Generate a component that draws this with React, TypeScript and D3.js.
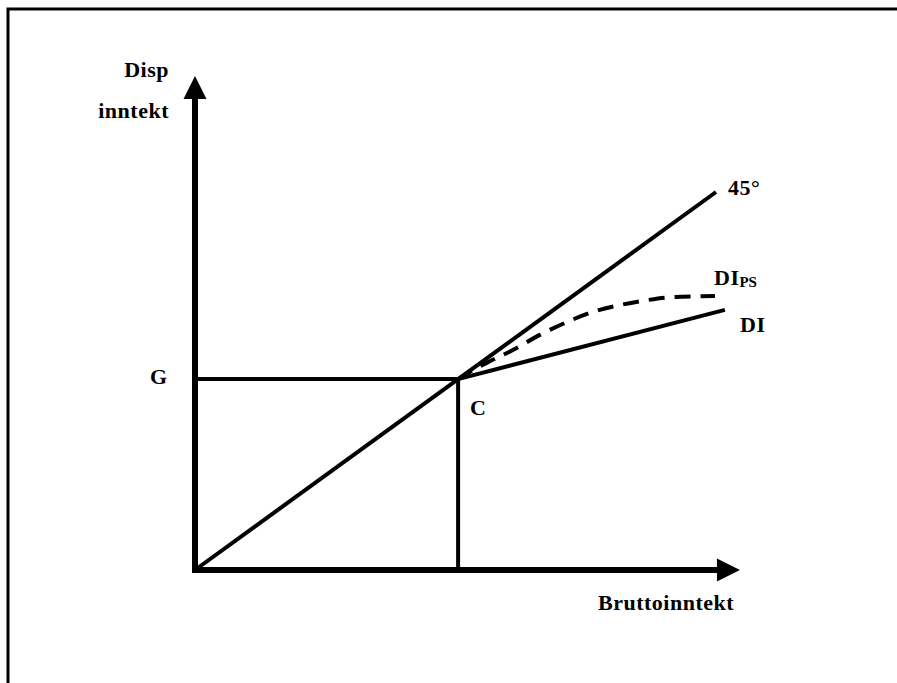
import React from 'react';
import * as d3 from 'd3';

// data coordinates (arbitrary income units)
const axisEnd = { x: 10.46, y: 13.07 };
const cPoint = { x: 5.05, y: 5.05 };
const line45 = [
  { x: 0, y: 0 },
  { x: 10, y: 10 },
];
const diLine = [
  { x: 5.05, y: 5.05 },
  { x: 10.17, y: 6.88 },
];
const diPsX = [5.05, 5.34, 5.6, 6.1, 6.62, 7.14, 7.64, 8.16, 8.68, 9.17, 9.98];
const diPsY = [5.05, 5.29, 5.48, 5.82, 6.22, 6.56, 6.83, 7.01, 7.14, 7.22, 7.25];

const W = 897;
const H = 683;

const font = '"Liberation Serif", "Times New Roman", serif';

export default function App() {
  const x = d3.scaleLinear().domain([0, 10]).range([195, 716]);
  const y = d3.scaleLinear().domain([0, 10]).range([570, 192]);

  const line = d3
    .line<{ x: number; y: number }>()
    .x((d) => x(d.x))
    .y((d) => y(d.y));

  const curve = d3
    .line<{ x: number; y: number }>()
    .x((d) => x(d.x))
    .y((d) => y(d.y))
    .curve(d3.curveMonotoneX);

  const psPoints = diPsX.map((v, i) => ({ x: v, y: diPsY[i] }));

  // axis arrows
  const ox = x(0);
  const oy = y(0);
  const xTip = x(axisEnd.x);
  const yTip = y(axisEnd.y);
  const head = 23;
  const half = 11.5;

  const textStyle = { fontFamily: font, fontWeight: 700, fontSize: 22, letterSpacing: 0.5 };

  return (
    <svg
      width={W}
      height={H}
      style={{ position: 'absolute', left: 0, top: 0, background: '#fff' }}
    >
      <path d={`M8,${H} L8,9 L${W},9`} fill="none" stroke="#000" strokeWidth={3} />

      {/* axes */}
      <line x1={ox - 2} y1={oy} x2={xTip - head + 1} y2={oy} stroke="#000" strokeWidth={6} />
      <line x1={ox} y1={oy + 3} x2={ox} y2={yTip + head - 1} stroke="#000" strokeWidth={6} />
      <polygon
        points={`${xTip},${oy} ${xTip - head},${oy - half} ${xTip - head},${oy + half}`}
        fill="#000"
      />
      <polygon
        points={`${ox},${yTip} ${ox - half},${yTip + head} ${ox + half},${yTip + head}`}
        fill="#000"
      />

      {/* G and C guides */}
      <line x1={ox} y1={y(cPoint.y)} x2={x(cPoint.x)} y2={y(cPoint.y)} stroke="#000" strokeWidth={4} />
      <line x1={x(cPoint.x)} y1={y(cPoint.y)} x2={x(cPoint.x)} y2={oy} stroke="#000" strokeWidth={4} />

      <path d={line(line45) ?? ''} fill="none" stroke="#000" strokeWidth={4} />
      <path d={line(diLine) ?? ''} fill="none" stroke="#000" strokeWidth={4} />
      <path
        d={curve(psPoints) ?? ''}
        fill="none"
        stroke="#000"
        strokeWidth={4}
        strokeDasharray="16 10"
      />

      <text x={169} y={77} textAnchor="end" style={textStyle}>Disp</text>
      <text x={169} y={118} textAnchor="end" style={textStyle}>inntekt</text>
      <text x={150} y={384} style={textStyle}>G</text>
      <text x={470} y={415} style={textStyle}>C</text>
      <text x={728} y={195} style={textStyle}>45°</text>
      <text x={714} y={285} style={textStyle}>
        DI
        <tspan style={{ fontSize: 15, letterSpacing: 0 }} dy={2}>PS</tspan>
      </text>
      <text x={740} y={332} style={textStyle}>DI</text>
      <text x={598} y={610} style={textStyle}>Bruttoinntekt</text>
    </svg>
  );
}
